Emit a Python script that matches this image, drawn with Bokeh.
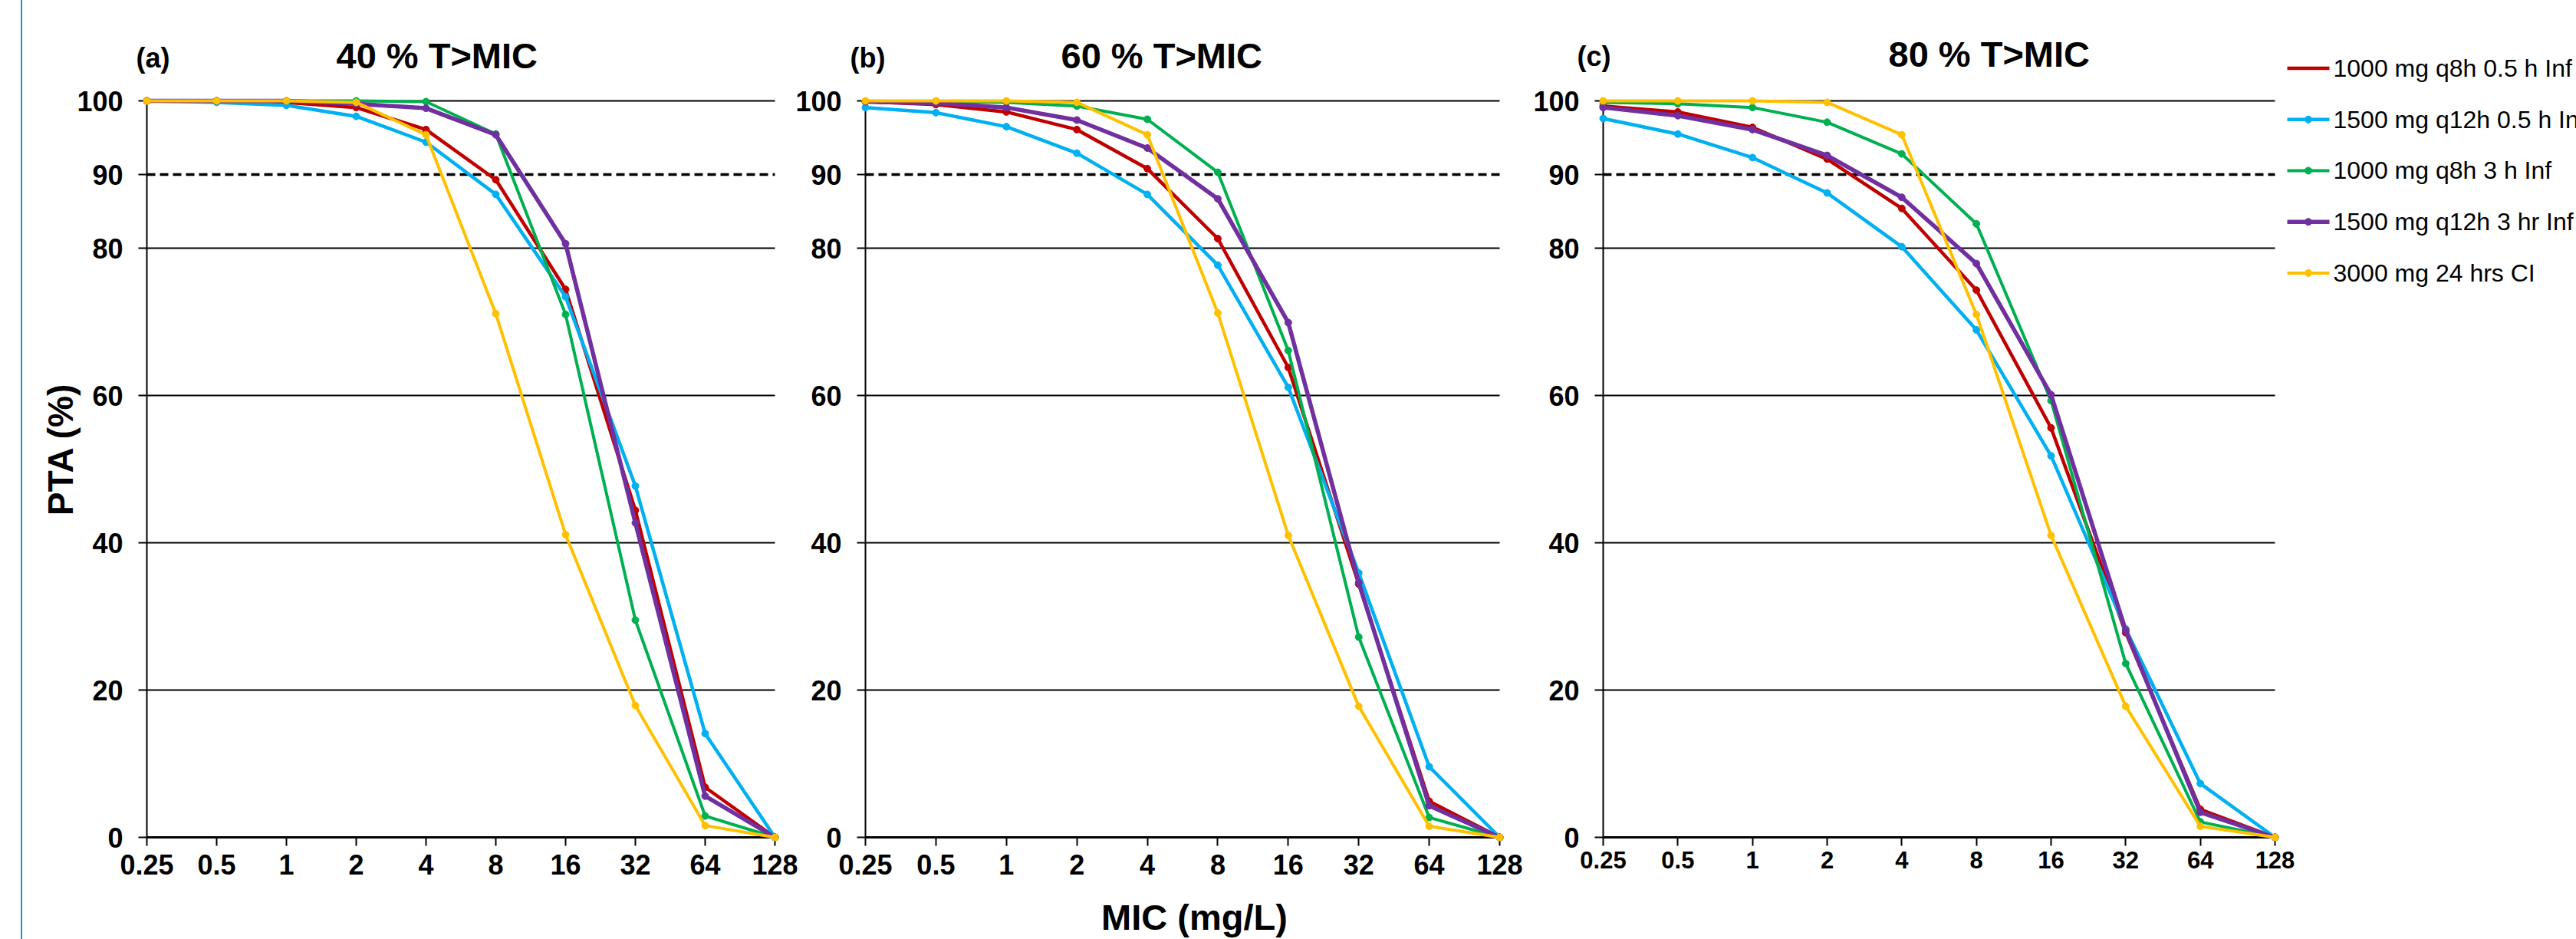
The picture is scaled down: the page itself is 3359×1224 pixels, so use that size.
import math
from bokeh.plotting import figure
from bokeh.layouts import row
from bokeh.core.properties import value
from bokeh.models import Range1d, FixedTicker, CustomJSTickFormatter, Spacer
from bokeh.embed import file_html
from bokeh.resources import INLINE

# ---------------- data ----------------
MIC = [0.25, 0.5, 1, 2, 4, 8, 16, 32, 64, 128]
MIC_LABELS = ["0.25", "0.5", "1", "2", "4", "8", "16", "32", "64", "128"]
Y_TICKS = [0, 20, 40, 60, 80, 90, 100]
GRID_Y = [20, 40, 60, 80, 100]
TARGET_PTA = 90

REGIMENS = ["1000 mg q8h 0.5 h Inf", "1500 mg q12h 0.5 h Inf",
            "1000 mg q8h 3 h Inf", "1500 mg q12h 3 hr Inf", "3000 mg 24 hrs CI"]
COLORS = ["#C00000", "#00B0F0", "#00B050", "#7030A0", "#FFC000"]
WIDTHS = [4.5, 4.5, 4, 5.5, 4]

# (a) 40 % T>MIC
a_q8h_05 = [100, 100, 99.8, 99.1, 96.1, 89.3, 74.4, 44.4, 6.8, 0]
a_q12h_05 = [100, 99.8, 99.4, 97.9, 94.4, 87.3, 73.4, 47.7, 14.1, 0]
a_q8h_3 = [100, 100, 100, 100, 99.9, 95.5, 71.0, 29.5, 2.9, 0]
a_q12h_3 = [100, 100, 100, 99.6, 99.0, 95.4, 80.6, 42.7, 5.6, 0]
a_ci = [100, 100, 100, 99.8, 95.4, 71.1, 41.1, 17.9, 1.6, 0]

# (b) 60 % T>MIC
b_q8h_05 = [99.9, 99.5, 98.5, 96.1, 90.8, 81.3, 63.8, 34.4, 4.9, 0]
b_q12h_05 = [99.1, 98.4, 96.5, 92.9, 87.3, 77.7, 61.1, 35.9, 9.6, 0]
b_q8h_3 = [99.9, 99.9, 99.8, 99.3, 97.5, 90.3, 66.1, 27.2, 2.7, 0]
b_q12h_3 = [99.9, 99.7, 99.1, 97.4, 93.6, 86.7, 69.9, 34.6, 4.3, 0]
b_ci = [100, 100, 100, 99.8, 95.4, 71.2, 41.0, 17.8, 1.5, 0]

# (c) 80 % T>MIC
c_q8h_05 = [99.3, 98.5, 96.4, 92.1, 85.4, 74.3, 55.6, 27.8, 3.8, 0]
c_q12h_05 = [97.6, 95.5, 92.3, 87.5, 80.2, 68.9, 51.8, 28.3, 7.3, 0]
c_q8h_3 = [99.8, 99.6, 99.1, 97.1, 92.8, 83.3, 59.3, 23.6, 2.1, 0]
c_q12h_3 = [99.1, 98.0, 96.1, 92.6, 86.9, 77.9, 60.1, 28.1, 3.4, 0]
c_ci = [100, 100, 100, 99.8, 95.4, 71.0, 41.0, 17.8, 1.5, 0]

# ---------------- layout (page pixels) ----------------
H = 1224
FONT = "Liberation Sans"

PANELS = [
    dict(tag="(a)", title="40 % T>MIC",
         series=[a_q8h_05, a_q12h_05, a_q8h_3, a_q12h_3, a_ci],
         fig_x=29, fig_w=1024, margin=0,
         x025=191, x128=1010, y100=130, y0=1091,
         xlab=36, xstand=11, tag_x=177, tag_y=75, title_x=438, title_y=72),
    dict(tag="(b)", title="60 % T>MIC",
         series=[b_q8h_05, b_q12h_05, b_q8h_3, b_q12h_3, b_ci],
         fig_x=1013, fig_w=985, margin=-40,
         x025=1128, x128=1955, y100=131, y0=1091,
         xlab=36, xstand=11, tag_x=1108, tag_y=75, title_x=1383, title_y=72),
    dict(tag="(c)", title="80 % T>MIC",
         series=[c_q8h_05, c_q12h_05, c_q8h_3, c_q12h_3, c_ci],
         fig_x=1958, fig_w=1042, margin=-40,
         x025=2090, x128=2966, y100=122, y0=1093,
         xlab=31, xstand=7, tag_x=2056, tag_y=75, title_x=2462, title_y=72),
]
LEG_FIG_X = 2970
LEG_FIG_W = 3359 - LEG_FIG_X


def add_text(p, g, px, py, text, size, bold=True, align="left", angle=0.0):
    """Text anchored at the panel's (MIC[0], 0) corner, offset in pixels;
    (px, py) is the page position of the text's left/centre and middle."""
    p.text(x=[MIC[0]], y=[0], text=[text],
           x_offset=px - g["x025"], y_offset=py - g["y0"],
           text_font=value(FONT), text_font_size=value(f"{size}px"),
           text_font_style=value("bold" if bold else "normal"),
           text_align=value(align), text_baseline=value("middle"),
           angle=angle, text_color="black", level="overlay")


figs = []
for g in PANELS:
    p = figure(width=g["fig_w"], height=H, x_axis_type="log",
               x_range=Range1d(MIC[0], MIC[-1]), y_range=Range1d(0, 100),
               output_backend="svg", toolbar_location=None,
               min_border_left=g["x025"] - g["fig_x"],
               min_border_right=g["fig_x"] + g["fig_w"] - g["x128"],
               min_border_top=g["y100"], min_border_bottom=H - g["y0"],
               background_fill_alpha=0, border_fill_alpha=0,
               outline_line_color=None)
    if g["margin"]:
        p.margin = (0, 0, 0, g["margin"])
    p.xgrid.grid_line_color = None
    p.ygrid.grid_line_color = None

    xa = p.xaxis[0]
    ya = p.yaxis[0]
    xa.ticker = FixedTicker(ticks=MIC)
    xa.formatter = CustomJSTickFormatter(
        args=dict(mic_values=MIC, mic_labels=MIC_LABELS),
        code="const i = mic_values.indexOf(tick); return i >= 0 ? mic_labels[i] : '';")
    ya.ticker = FixedTicker(ticks=Y_TICKS)
    for ax in (xa, ya):
        ax.axis_line_color = "black"
        ax.major_tick_line_color = "black"
        ax.major_tick_line_width = 2
        ax.major_tick_out = 11
        ax.major_tick_in = 0
        ax.minor_tick_line_color = None
        ax.major_label_text_font = FONT
        ax.major_label_text_font_style = "bold"
        ax.major_label_text_color = "black"
    xa.axis_line_width = 3
    ya.axis_line_width = 2
    xa.major_label_text_font_size = f"{g['xlab']}px"
    xa.major_label_standoff = g["xstand"]
    ya.major_label_text_font_size = "36px"
    ya.major_label_standoff = 20

    # horizontal gridlines and 90 % target line (unclipped so edges stay whole)
    p.segment(x0=[MIC[0]] * len(GRID_Y), y0=GRID_Y,
              x1=[MIC[-1]] * len(GRID_Y), y1=GRID_Y,
              line_color="black", line_width=2, level="overlay")
    p.segment(x0=[MIC[0]], y0=[TARGET_PTA], x1=[MIC[-1]], y1=[TARGET_PTA],
              line_color="black", line_width=3.3, line_dash="11 6",
              level="overlay")

    for vals, col, lw in zip(g["series"], COLORS, WIDTHS):
        p.line(MIC, vals, line_color=col, line_width=lw, level="overlay")
        p.scatter(MIC, vals, size=9, fill_color=col, line_color=col,
                  level="overlay")

    add_text(p, g, g["tag_x"], g["tag_y"], g["tag"], 36)
    add_text(p, g, g["title_x"], g["title_y"], g["title"], 47)
    figs.append((p, g))

pa, ga = figs[0]
pb, gb = figs[1]
pc, gc = figs[2]

add_text(pa, ga, 78, 585, "PTA (%)", 46, align="center", angle=math.pi / 2)
add_text(pb, gb, 1557, 1195, "MIC (mg/L)", 47, align="center")

# ---------------- legend key (own canvas, right of panel c) ----------------
# this canvas uses a pixel-like coordinate system: x = px from its left edge,
# y = px up from the page bottom; its frame matches panel (c)'s frame.
pl = figure(width=LEG_FIG_W, height=H,
            x_range=Range1d(0, LEG_FIG_W),
            y_range=Range1d(H - gc["y0"], H - gc["y100"]),
            x_axis_location=None, y_axis_location=None,
            output_backend="svg", toolbar_location=None,
            min_border_left=0, min_border_right=0,
            min_border_top=gc["y100"], min_border_bottom=H - gc["y0"],
            background_fill_alpha=0, border_fill_alpha=0,
            outline_line_color=None)
pl.margin = (0, 0, 0, -30)
pl.title.visible = False
pl.grid.visible = False

LEG_X0, LEG_X1, LEG_TEXT_X = 2982, 3037, 3042
LEG_ROW0, LEG_PITCH = 79, 67.5
n = len(REGIMENS)
rows_y = [H - (LEG_ROW0 + i * LEG_PITCH) for i in range(n)]
pl.segment(x0=[LEG_X0 - LEG_FIG_X] * n, x1=[LEG_X1 - LEG_FIG_X] * n,
           y0=rows_y, y1=rows_y, line_color=COLORS, line_width=WIDTHS,
           level="overlay")
pl.scatter(x=[(LEG_X0 + LEG_X1) / 2 - LEG_FIG_X] * n, y=rows_y, size=9,
           fill_color=COLORS, line_color=COLORS, level="overlay")
pl.text(x=[LEG_TEXT_X - LEG_FIG_X] * n, y=rows_y, text=REGIMENS,
        text_font=value(FONT), text_font_size=value("32px"),
        text_font_style=value("normal"), text_align=value("left"),
        text_baseline=value("middle"), text_color="black", level="overlay")

blank = Spacer(width=27, height=H)
edge = Spacer(width=2, height=H, styles={"background-color": "#1C94D2"})

layout = row(blank, edge, pa, pb, pc, pl)
open("out.html", "w").write(file_html(layout, INLINE))
